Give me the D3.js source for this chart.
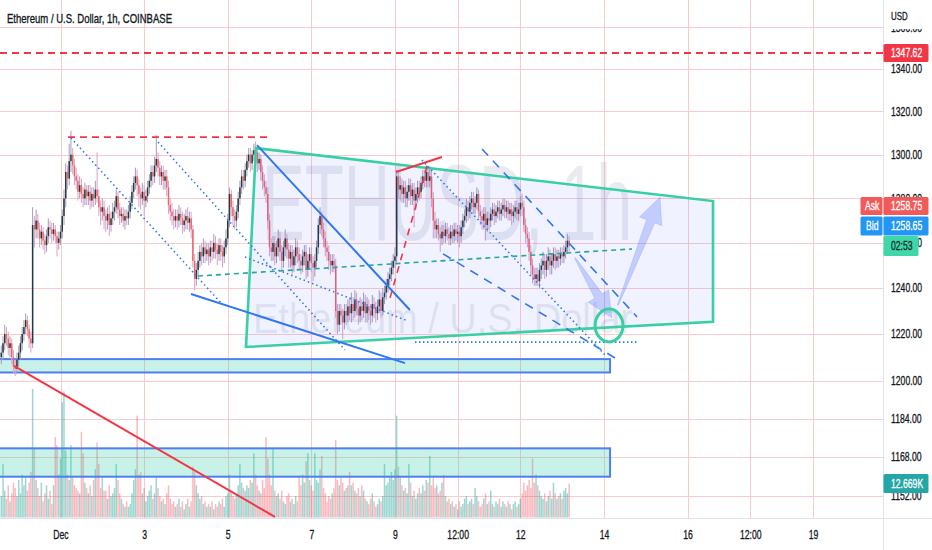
<!DOCTYPE html>
<html>
<head>
<meta charset="utf-8">
<title>ETHUSD 1h</title>
<script src="https://cdn.jsdelivr.net/npm/d3@7/dist/d3.min.js"></script>
<style>
  body { margin: 0; background: #fff; }
  svg { display: block; background: #fff; }
</style>
</head>
<body>
<svg width="932" height="550"></svg>
<script>
// hourly candles, first one at Nov 29 14:00 UTC (34 h before Dec 1)
const dec1 = Date.UTC(2022, 11, 1);
const firstCandleHour = -34;
const firstOpen = 1210;
const closes = [
  1212,1216,1220,1218,1214,1216,1210,1206,1205,1209,
  1212,1216,1220,1223,1226,1222,1218,1216,1268,1266,
  1270,1266,1262,1265,1261,1259,1263,1267,1266,1264,
  1266,1263,1260,1262,1265,1272,1280,1292,1289,1297,
  1300,1295,1290,1288,1283,1286,1282,1280,1284,1281,
  1283,1279,1282,1280,1284,1281,1276,1274,1276,1272,
  1270,1273,1268,1271,1274,1276,1281,1275,1272,1273,
  1270,1272,1271,1274,1278,1283,1287,1290,1286,1282,
  1280,1283,1279,1281,1285,1288,1292,1290,1295,1298,
  1294,1290,1292,1288,1290,1285,1277,1274,1272,1270,
  1272,1270,1273,1271,1268,1270,1272,1269,1271,1266,
  1252,1244,1248,1252,1256,1254,1258,1255,1257,1254,
  1258,1256,1260,1257,1255,1259,1256,1254,1258,1262,
  1270,1282,1276,1272,1270,1274,1280,1285,1290,1288,
  1293,1297,1300,1296,1300,1302,1301,1296,1298,1292,
  1288,1285,1282,1270,1258,1256,1260,1254,1258,1262,
  1256,1252,1258,1262,1257,1253,1256,1250,1254,1258,
  1255,1252,1250,1254,1256,1248,1252,1255,1251,1249,
  1252,1258,1268,1272,1266,1262,1258,1256,1252,1250,
  1252,1250,1230,1224,1230,1228,1225,1230,1228,1232,
  1229,1233,1230,1235,1231,1228,1232,1230,1234,1229,
  1232,1230,1228,1233,1231,1229,1232,1235,1230,1236,
  1238,1241,1244,1246,1249,1252,1254,1290,1284,1286,
  1282,1285,1280,1283,1286,1281,1284,1279,1282,1285,
  1283,1287,1290,1288,1292,1288,1290,1280,1270,1266,
  1268,1264,1262,1265,1263,1266,1264,1262,1265,1263,
  1266,1264,1265,1263,1267,1270,1272,1276,1274,1278,
  1280,1276,1278,1282,1274,1272,1270,1273,1268,1271,
  1270,1273,1275,1272,1274,1276,1273,1275,1277,1274,
  1276,1273,1275,1272,1274,1276,1273,1275,1278,1276,
  1268,1264,1262,1256,1250,1246,1244,1246,1243,1248,
  1250,1252,1248,1252,1254,1250,1252,1255,1252,1254,
  1253,1255,1254,1256,1258,1261,1258.7
];
const highs = [
  1215,1219,1224,1223,1221,1219,1218,1213,1209,1212,
  1215,1219,1223,1226,1229,1228,1224,1221,1276,1272,
  1275,1273,1269,1268,1267,1264,1266,1271,1270,1269,
  1269,1268,1265,1265,1268,1275,1284,1296,1295,1305,
  1311,1303,1298,1294,1291,1290,1289,1285,1287,1286,
  1286,1286,1285,1285,1288,1301,1284,1279,1280,1279,
  1275,1276,1277,1274,1278,1279,1284,1283,1278,1276,
  1276,1275,1275,1277,1281,1286,1290,1294,1293,1289,
  1285,1287,1286,1284,1288,1291,1295,1295,1299,1309,
  1301,1297,1295,1295,1293,1293,1288,1280,1278,1275,
  1275,1275,1277,1276,1274,1273,1275,1276,1274,1274,
  1268,1255,1251,1256,1259,1260,1262,1261,1260,1260,
  1261,1261,1264,1263,1260,1262,1262,1259,1261,1266,
  1273,1285,1284,1279,1275,1277,1283,1288,1293,1293,
  1296,1300,1303,1303,1302,1305,1306,1303,1301,1300,
  1295,1291,1288,1285,1273,1262,1263,1263,1261,1266,
  1265,1259,1261,1266,1264,1260,1259,1259,1257,1262,
  1261,1258,1255,1257,1259,1259,1255,1258,1258,1254,
  1255,1261,1271,1276,1274,1269,1265,1261,1259,1255,
  1255,1255,1253,1233,1233,1233,1231,1233,1233,1235,
  1236,1238,1236,1239,1238,1234,1236,1235,1238,1237,
  1236,1235,1233,1237,1236,1234,1235,1239,1238,1240,
  1241,1244,1247,1249,1252,1255,1258,1293,1292,1290,
  1289,1288,1288,1286,1289,1289,1287,1287,1285,1288,
  1288,1290,1293,1293,1295,1295,1294,1293,1283,1274,
  1271,1271,1267,1268,1268,1269,1269,1267,1268,1268,
  1269,1269,1268,1268,1270,1273,1275,1280,1279,1281,
  1283,1283,1281,1285,1284,1277,1275,1276,1276,1274,
  1274,1276,1278,1278,1277,1279,1279,1278,1280,1280,
  1279,1279,1278,1278,1277,1279,1279,1278,1281,1282,
  1279,1271,1267,1265,1259,1253,1249,1249,1249,1251,
  1253,1256,1255,1255,1258,1257,1255,1258,1258,1257,
  1257,1258,1258,1259,1261,1264,1263
];
const lows = [
  1207,1209,1213,1215,1211,1210,1207,1203,1202,1203,
  1206,1209,1213,1217,1220,1219,1214,1212,1214,1258,
  1262,1262,1258,1259,1257,1255,1256,1260,1262,1260,
  1261,1260,1254,1257,1259,1262,1268,1276,1284,1286,
  1292,1291,1286,1284,1279,1280,1278,1276,1277,1277,
  1277,1275,1276,1276,1277,1278,1272,1268,1270,1266,
  1265,1266,1263,1265,1268,1270,1273,1271,1268,1269,
  1267,1266,1268,1268,1271,1275,1280,1284,1281,1276,
  1275,1277,1272,1276,1278,1282,1285,1286,1287,1292,
  1290,1286,1286,1284,1284,1281,1273,1270,1268,1266,
  1267,1266,1267,1268,1264,1265,1266,1266,1265,1262,
  1249,1239,1241,1245,1249,1250,1251,1251,1252,1250,
  1251,1252,1253,1253,1250,1252,1252,1249,1251,1255,
  1259,1267,1272,1268,1266,1267,1271,1277,1282,1284,
  1285,1290,1294,1292,1293,1297,1297,1292,1293,1288,
  1284,1281,1278,1266,1254,1252,1252,1250,1251,1254,
  1252,1248,1249,1254,1253,1249,1249,1246,1247,1250,
  1251,1248,1246,1247,1250,1244,1245,1248,1247,1243,
  1245,1249,1255,1264,1263,1258,1254,1252,1248,1246,
  1247,1247,1227,1220,1221,1224,1218,1222,1224,1225,
  1226,1225,1226,1227,1228,1224,1225,1226,1227,1225,
  1225,1226,1224,1225,1227,1225,1226,1229,1227,1228,
  1233,1235,1238,1241,1243,1246,1249,1251,1280,1279,
  1278,1278,1276,1276,1279,1277,1277,1267,1275,1278,
  1279,1280,1284,1285,1285,1285,1285,1276,1262,1262,
  1262,1261,1256,1259,1260,1260,1261,1259,1259,1260,
  1260,1261,1260,1258,1260,1264,1267,1269,1270,1271,
  1275,1273,1273,1275,1271,1268,1266,1266,1261,1265,
  1266,1267,1270,1268,1269,1271,1270,1270,1272,1271,
  1271,1270,1270,1268,1269,1271,1270,1270,1272,1272,
  1265,1260,1258,1252,1246,1242,1241,1241,1241,1240,
  1244,1246,1244,1245,1248,1246,1246,1249,1248,1249,
  1249,1250,1251,1251,1253,1255,1256
];
// volume in thousands
const volumes = [
  8,20,10,7,12,6,9,13,11,8,
  14,9,16,12,15,10,13,17,48,26,
  14,11,8,13,6,9,12,7,10,5,
  12,30,27,16,22,43,47,25,16,14,
  27,15,12,11,10,9,32,24,13,11,
  9,12,8,14,18,28,20,11,15,10,
  10,7,12,8,9,11,20,14,9,7,
  5,4,6,4,5,9,14,18,38,16,
  17,9,11,6,8,10,12,7,9,15,
  11,8,6,7,5,9,12,7,5,6,
  4,5,7,4,6,3,5,7,4,6,
  19,17,12,9,7,8,5,6,4,5,
  4,6,3,5,4,6,5,7,4,8,
  9,16,10,8,7,9,12,20,13,11,
  10,12,11,14,13,24,16,12,10,9,
  14,11,30,22,16,12,26,10,8,9,
  7,10,6,5,8,9,6,7,5,8,
  6,15,12,16,13,21,24,14,12,10,
  24,14,13,18,23,11,9,6,8,7,
  9,11,29,14,12,15,13,10,11,12,
  17,12,13,10,9,11,8,12,10,7,
  6,5,7,9,6,4,5,7,6,8,
  20,12,13,15,17,14,18,38,19,15,
  12,10,11,9,20,13,8,10,7,9,
  11,9,12,10,14,13,23,12,15,11,
  12,9,10,13,16,8,6,7,5,6,
  4,5,3,6,4,5,7,8,5,6,
  7,5,11,8,6,4,5,7,9,5,
  6,10,5,4,6,5,7,4,6,5,
  4,6,5,3,5,6,4,5,7,9,
  13,10,12,14,11,22,13,16,12,10,
  8,7,9,6,8,10,7,13,9,7,
  8,9,7,10,11,9,12.669
];

const priceTicks = [1152, 1168, 1184, 1200, 1220, 1240, 1260, 1280, 1300, 1320, 1340, 1360];
const timeTickHours = [0, 48, 96, 144, 192, 228, 264, 312, 360, 396, 432];
const timeTickLabels = ["Dec", "3", "5", "7", "9", "12:00", "12", "14", "16", "12:00", "19"];

// drawings: [hours from Dec 1, price]
const alertPrice = 1347.62;
const topDash = [[4.3, 1308.1], [120.3, 1308.1]];
const dottedLines = [
  [[6.0, 1307.7], [92.7, 1233.0]],
  [[56.0, 1305.8], [163.3, 1213.1]],
  [[105.9, 1253.7], [199.5, 1225.6]],
  [[207.5, 1297.5], [312.6, 1211.0]]
];
const dashedBlue = [
  [[242.0, 1302.6], [331.0, 1227.4]],
  [[219.6, 1255.1], [318.3, 1209.7]]
];
const dottedFloor = [[203.5, 1216.5], [331.0, 1216.5]];
const blueLines = [
  [[112.8, 1304.4], [200.6, 1230.4]],
  [[74.9, 1237.4], [197.8, 1207.5]]
];
const redSegment = [[192.6, 1292.0], [219.0, 1298.9]];
const redDashDiag = [[189.2, 1235.7], [210.9, 1296.1]];
const tealDash = [[78.9, 1245.3], [328.1, 1257.3]];
const channel = [[112.2, 1303.0], [374.6, 1278.8], [374.6, 1225.3], [106.5, 1214.4]];
const targetBox = [[306.9, 1230.8], [322.9, 1216.6]];
const arrows = [
  [[295.4, 1253.3], [316.6, 1226.9]],
  [[320.0, 1232.6], [344.2, 1280.6]]
];
const zones = [
  [[-40, 1209.2], [315.5, 1203.5]],
  [[-40, 1171.6], [315.5, 1159.9]]
];
const downTrend = [[-26.7, 1206.3], [123.1, 1143.5]];

const askPrice = 1258.75, bidPrice = 1258.65, countdown = "02:53";

// ---------------------------------------------------------------
const FONT = "'Liberation Sans', Arial, sans-serif";
const SQ = 0.72;   // the reference text is horizontally narrow
const plotR = 883, plotB = 518;

const svg = d3.select("svg");
const at = h => new Date(dec1 + h * 36e5);
const x = d3.scaleUtc().domain([at(0), at(432)]).range([60.5, 813]);
const y = d3.scaleLog().domain([1152, 1340]).range([496, 69]);
const yv = d3.scaleLinear().domain([0, 50]).range([517.5, 383.5]);
const pt = d => [x(at(d[0])), y(d[1])];

const candles = closes.map((c, i) => ({
  t: at(firstCandleHour + i),
  o: i === 0 ? firstOpen : closes[i - 1],
  h: highs[i], l: lows[i], c: c, v: volumes[i]
}));

svg.append("defs").append("clipPath").attr("id", "plot")
  .append("rect").attr("width", plotR).attr("height", plotB);

// grid
const grid = svg.append("g").attr("stroke", "#f8cccc").attr("stroke-width", 1);
grid.selectAll(".gx").data(timeTickHours).join("line")
  .attr("x1", d => Math.round(x(at(d))) + 0.5).attr("x2", d => Math.round(x(at(d))) + 0.5)
  .attr("y1", 0).attr("y2", plotB);
grid.selectAll(".gy").data(priceTicks).join("line")
  .attr("x1", 0).attr("x2", plotR)
  .attr("y1", d => Math.round(y(d)) + 0.5).attr("y2", d => Math.round(y(d)) + 0.5);

const plot = svg.append("g").attr("clip-path", "url(#plot)");

// watermark
plot.append("text").text("ETHUSD, 1h")
  .attr("x", 262).attr("y", 240).attr("textLength", 370).attr("lengthAdjust", "spacingAndGlyphs")
  .attr("font-family", FONT).attr("font-size", 108).attr("fill", "rgba(130,138,165,0.17)");
plot.append("text").text("Ethereum / U.S. Dollar")
  .attr("x", 253).attr("y", 333).attr("textLength", 380).attr("lengthAdjust", "spacingAndGlyphs")
  .attr("font-family", FONT).attr("font-size", 42).attr("fill", "rgba(130,138,165,0.17)");

// volume
plot.append("g").selectAll("rect").data(candles).join("rect")
  .attr("x", d => x(d.t) - 0.75).attr("width", 1.5)
  .attr("y", d => yv(d.v)).attr("height", d => yv(0) - yv(d.v))
  .attr("fill", d => d.c >= d.o ? "rgba(38,166,154,0.45)" : "rgba(242,54,69,0.34)");

// zones
plot.append("g").selectAll("rect").data(zones).join("rect")
  .attr("x", d => pt(d[0])[0]).attr("y", d => pt(d[0])[1])
  .attr("width", d => pt(d[1])[0] - pt(d[0])[0])
  .attr("height", d => pt(d[1])[1] - pt(d[0])[1])
  .attr("fill", "rgba(35,203,163,0.25)").attr("stroke", "#4d7ef5").attr("stroke-width", 2);

// candles
const cg = plot.append("g");
cg.selectAll("line").data(candles).join("line")
  .attr("x1", d => x(d.t)).attr("x2", d => x(d.t))
  .attr("y1", d => y(d.h)).attr("y2", d => y(d.l))
  .attr("stroke", d => d.c >= d.o ? "#a99bb3" : "#d6a4cf").attr("stroke-width", 1);
cg.selectAll("rect").data(candles).join("rect")
  .attr("x", d => x(d.t) - 0.75).attr("width", 1.5)
  .attr("y", d => y(Math.max(d.o, d.c)))
  .attr("height", d => Math.max(1, y(Math.min(d.o, d.c)) - y(Math.max(d.o, d.c))))
  .attr("fill", d => d.c >= d.o ? "#1e3d42" : "#f26464");

// drawings
const dr = plot.append("g").attr("fill", "none");
const seg = (d, stroke, w, dash) => dr.append("line")
  .attr("x1", pt(d[0])[0]).attr("y1", pt(d[0])[1])
  .attr("x2", pt(d[1])[0]).attr("y2", pt(d[1])[1])
  .attr("stroke", stroke).attr("stroke-width", w)
  .attr("stroke-dasharray", dash || null);

dr.append("polygon")
  .attr("points", channel.map(d => pt(d).join(",")).join(" "))
  .attr("fill", "rgba(40,70,255,0.07)").attr("stroke", "#38cfa2").attr("stroke-width", 2.6)
  .attr("stroke-linejoin", "miter");

dr.append("line").attr("x1", 0).attr("x2", plotR)
  .attr("y1", y(alertPrice)).attr("y2", y(alertPrice))
  .attr("stroke", "#f23645").attr("stroke-width", 1.8).attr("stroke-dasharray", "7,5");
seg(topDash, "#f23645", 1.8, "7,5");
dottedLines.forEach(d => seg(d, "#3178f0", 1.6, "1.5,3"));
dashedBlue.forEach(d => seg(d, "#3178f0", 1.6, "9,7"));
seg(dottedFloor, "#3178f0", 1.6, "1.5,2.5");
blueLines.forEach(d => seg(d, "#3178f0", 2));
seg(redSegment, "#f23645", 2);
seg(redDashDiag, "#f23645", 1.6, "7,6");
seg(tealDash, "#26a69a", 1.6, "5,4");
seg(downTrend, "#f23645", 2);

// arrows
function arrowPath(s, t) {
  const dx = t[0] - s[0], dy = t[1] - s[1], L = Math.hypot(dx, dy);
  const ux = dx / L, uy = dy / L, nx = -uy, ny = ux;
  const hl = 26, hw = 12, sw = 4.5, tw = 0.6;
  const bx = t[0] - ux * hl, by = t[1] - uy * hl;
  const p = [
    [s[0] + nx * tw, s[1] + ny * tw], [bx + nx * sw, by + ny * sw], [bx + nx * hw, by + ny * hw],
    t, [bx - nx * hw, by - ny * hw], [bx - nx * sw, by - ny * sw], [s[0] - nx * tw, s[1] - ny * tw]
  ];
  return "M" + p.map(q => q.join(",")).join("L") + "Z";
}
dr.selectAll(".arrow").data(arrows).join("path")
  .attr("d", d => arrowPath(pt(d[0]), pt(d[1])))
  .attr("fill", "rgba(60,100,250,0.26)").attr("stroke", "rgba(60,100,250,0.15)");

// target ellipse
const e0 = pt(targetBox[0]), e1 = pt(targetBox[1]);
dr.append("ellipse")
  .attr("cx", (e0[0] + e1[0]) / 2).attr("cy", (e0[1] + e1[1]) / 2)
  .attr("rx", (e1[0] - e0[0]) / 2).attr("ry", (e1[1] - e0[1]) / 2)
  .attr("stroke", "#38cfa2").attr("stroke-width", 3);

// frame lines
svg.append("line").attr("x1", plotR + 0.5).attr("x2", plotR + 0.5).attr("y1", 0).attr("y2", 550)
  .attr("stroke", "#e0e3eb");
svg.append("line").attr("x1", 0).attr("x2", 932).attr("y1", plotB + 0.5).attr("y2", plotB + 0.5)
  .attr("stroke", "#e0e3eb");

// price axis
const gy = svg.append("g").attr("transform", `translate(${plotR},0)`)
  .call(d3.axisRight(y).tickValues(priceTicks).tickFormat(d3.format(".2f")).tickSize(0).tickPadding(8));
gy.select(".domain").remove();
gy.attr("font-family", FONT).attr("font-size", 12);
gy.selectAll("text").attr("x", 8 / SQ).attr("transform", `scale(${SQ},1)`)
  .attr("fill", "#131722").attr("stroke", "#131722").attr("stroke-width", 0.3);

// time axis
const gx = svg.append("g").attr("transform", `translate(0,${plotB})`)
  .call(d3.axisBottom(x).tickValues(timeTickHours.map(at))
    .tickFormat((d, i) => timeTickLabels[i]).tickSize(0).tickPadding(12));
gx.select(".domain").remove();
gx.attr("font-family", FONT).attr("font-size", 12);
gx.selectAll("text").attr("transform", `scale(${SQ},1)`)
  .attr("fill", "#131722").attr("stroke", "#131722").attr("stroke-width", 0.3);

// axis header
svg.append("rect").attr("x", plotR + 1).attr("y", 0).attr("width", 48).attr("height", 29).attr("fill", "#fff");
function label(x0, yb, str, size, fill) {
  return svg.append("text").text(str)
    .attr("transform", `translate(${x0},${yb}) scale(${SQ},1)`)
    .attr("font-family", FONT).attr("font-size", size).attr("fill", fill)
    .attr("stroke", fill).attr("stroke-width", 0.3);
}
label(891, 20, "USD", 11, "#131722");

// price boxes
function box(x0, x1, yc, h, fill, str, textFill, tx) {
  svg.append("rect").attr("x", x0).attr("y", yc - h / 2).attr("width", x1 - x0).attr("height", h)
    .attr("rx", 1.5).attr("fill", fill);
  label(tx, yc + 4.3, str, 12, textFill);
}
const yBid = y(bidPrice);
box(883.5, 928.5, y(alertPrice), 18, "#f23645", alertPrice.toFixed(2), "#fff", 891);
box(860.5, 882.5, yBid - 40, 18, "#f25a5a", "Ask", "#fff", 865);
box(883.5, 928.5, yBid - 40, 18, "#f25a5a", askPrice.toFixed(2), "#fff", 891);
box(860.5, 882.5, yBid - 20, 19, "#2196f3", "Bid", "#fff", 866);
box(883.5, 928.5, yBid - 20, 19, "#2196f3", bidPrice.toFixed(2), "#fff", 891);
box(883.5, 918.5, yBid, 20, "#3fd6a8", countdown, "#10302a", 891);
const lastVol = volumes[volumes.length - 1];
box(883.5, 928.5, yv(lastVol), 19, "#24a5a6", d3.format(".3f")(lastVol) + "K", "#fff", 891);

// title
svg.append("text").text("Ethereum / U.S. Dollar, 1h, COINBASE")
  .attr("x", 7).attr("y", 23).attr("textLength", 165).attr("lengthAdjust", "spacingAndGlyphs")
  .attr("font-family", FONT).attr("font-size", 13).attr("fill", "#131722")
  .attr("stroke", "#131722").attr("stroke-width", 0.35);
</script>
</body>
</html>
